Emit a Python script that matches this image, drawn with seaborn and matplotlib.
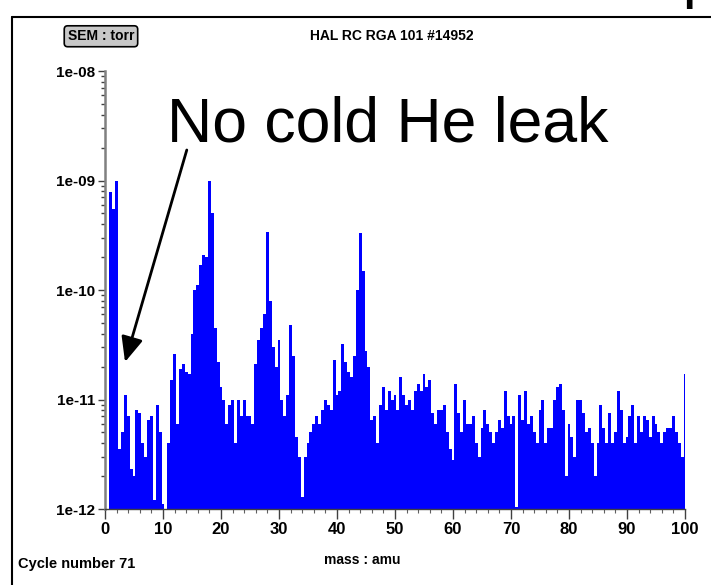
import numpy as np
import pandas as pd
import matplotlib
matplotlib.use("Agg")
import matplotlib.pyplot as plt
import seaborn as sns
from matplotlib.lines import Line2D
from matplotlib.ticker import MultipleLocator, LogLocator, FuncFormatter, NullFormatter

# partial pressures (torr), one value every 0.5 amu
p_01_25 = [7.8e-10, 5.5e-10, 1.0e-9, 3.5e-12, 5e-12, 1.1e-11, 7e-12, 2.3e-12,
           2e-12, 8e-12, 7.5e-12, 4e-12, 3e-12, 6.5e-12, 7e-12, 1.2e-12,
           9e-12, 5e-12, 1.1e-12, 1.0e-12, 4e-12, 1.5e-11, 2.6e-11, 6e-12,
           1.9e-11, 2.1e-11, 1.8e-11, 1.7e-11, 4e-11, 1.0e-10, 1.1e-10, 1.7e-10,
           2.1e-10, 2.0e-10, 1.0e-9, 5e-10, 4.5e-11, 2.2e-11, 1.3e-11, 1.0e-11,
           6e-12, 9e-12, 1.0e-11, 4e-12, 1.0e-11, 7e-12, 1.0e-11, 7e-12]
p_25_50 = [7e-12, 6e-12, 2.1e-11, 3.5e-11, 4.5e-11, 6e-11, 3.4e-10, 8e-11,
           3e-11, 2e-11, 3.5e-11, 1e-11, 7e-12, 1.1e-11, 4.8e-11, 2.5e-11,
           4.5e-12, 3e-12, 1.3e-12, 3e-12, 4e-12, 5e-12, 6e-12, 7e-12,
           6e-12, 8e-12, 1e-11, 9e-12, 8e-12, 2.3e-11, 1.1e-11, 1.2e-11,
           3.2e-11, 2.2e-11, 1.8e-11, 1.6e-11, 2.5e-11, 1.0e-10, 3.3e-10, 1.5e-10,
           2.8e-11, 2e-11, 6.5e-12, 7e-12, 4e-12, 9e-12, 1.3e-11, 8e-12,
           1.2e-11, 1.0e-11]
p_50_75 = [1.1e-11, 8e-12, 1.6e-11, 1.1e-11, 9e-12, 1e-11, 8e-12, 1.2e-11,
           1.4e-11, 1.2e-11, 1.7e-11, 1.3e-11, 1.5e-11, 7.5e-12, 6e-12, 8e-12,
           8e-12, 9e-12, 5e-12, 3.5e-12, 2.8e-12, 1.4e-11, 7.5e-12, 5e-12,
           1e-11, 6e-12, 6e-12, 7e-12, 4e-12, 3e-12, 5.5e-12, 8e-12,
           6e-12, 5e-12, 4e-12, 5e-12, 6.5e-12, 5.5e-12, 1.2e-11, 7e-12,
           6e-12, 7e-12, 1.05e-12, 1.1e-11, 6.5e-12, 1.2e-11, 6e-12, 7e-12,
           5e-12, 4e-12]
p_75_100 = [8e-12, 1e-11, 4e-12, 5.5e-12, 5.5e-12, 1e-11, 1.3e-11, 1.4e-11,
            8e-12, 2e-12, 6e-12, 4.5e-12, 3e-12, 1e-11, 1e-11, 7.5e-12,
            5e-12, 5.5e-12, 4e-12, 2e-12, 4e-12, 9e-12, 5.5e-12, 4e-12,
            7.5e-12, 4e-12, 5e-12, 1.2e-11, 8e-12, 4e-12, 4.5e-12, 7e-12,
            9e-12, 4e-12, 7e-12, 5e-12, 7e-12, 6.5e-12, 4.5e-12, 7e-12,
            6e-12, 5e-12, 4e-12, 5e-12, 5.5e-12, 5.5e-12, 7e-12, 5e-12,
            4e-12, 3e-12, 1.7e-11]

pressure = p_01_25 + p_25_50 + p_50_75 + p_75_100
mass = np.arange(1.0, 100.01, 0.5)[:len(pressure)]
df = pd.DataFrame({"mass": mass, "pressure": pressure})

x_ticks = [0, 10, 20, 30, 40, 50, 60, 70, 80, 90, 100]

sns.set_style("white")
plt.rcParams["font.family"] = ["Liberation Sans", "DejaVu Sans"]
plt.rcParams["text.color"] = "black"
plt.rcParams["xtick.color"] = "black"
plt.rcParams["ytick.color"] = "black"

fig = plt.figure(figsize=(7.11, 5.85), dpi=100)
ax = fig.add_axes([0.1477, 0.1299, 0.9634 - 0.1477, 0.8786 - 0.1299])

sns.histplot(data=df, x="mass", weights="pressure", binwidth=0.5, binrange=(0.75, 100.25),
             color="#0000ff", alpha=1, linewidth=0, edgecolor="none", ax=ax)
ax.set_yscale("log")
ax.set_ylim(1e-12, 1e-8)
ax.set_xlim(0, 100)
ax.set_xlabel("")
ax.set_ylabel("")

ax.set_xticks(x_ticks)
ax.xaxis.set_minor_locator(MultipleLocator(2))
ax.yaxis.set_major_locator(LogLocator(base=10))
ax.yaxis.set_minor_locator(LogLocator(base=10, subs=np.arange(2, 10)))
ax.yaxis.set_minor_formatter(NullFormatter())
ax.yaxis.set_major_formatter(FuncFormatter(lambda v, _: f"{v:.0e}"))

for s in ["top", "right"]:
    ax.spines[s].set_visible(False)
ax.spines["left"].set_color("#808080")
ax.spines["left"].set_linewidth(1.8)
ax.spines["bottom"].set_color("#404040")
ax.spines["bottom"].set_linewidth(1.0)

ax.tick_params(axis="y", which="major", length=5, width=1, color="#404040",
               labelsize=11, pad=2, left=True, labelcolor="black")
ax.tick_params(axis="y", which="minor", length=3, width=1, color="#404040", left=True)
ax.tick_params(axis="x", which="major", length=7, width=1, color="#404040",
               labelsize=12, pad=2, bottom=True, labelcolor="black")
ax.tick_params(axis="x", which="minor", length=3, width=0.8, color="#606060", bottom=True)
for lab in ax.get_xticklabels() + ax.get_yticklabels():
    lab.set_fontweight("bold")

# annotation arrow
ax.annotate("", xy=(3.45, 2.2e-11), xytext=(14.1, 1.9e-9),
            arrowprops=dict(arrowstyle="-|>,head_length=0.8,head_width=0.35",
                            lw=2.0, color="black", mutation_scale=19,
                            shrinkA=0, shrinkB=0))

fig.text(167 / 711, 1 - 141 / 585, "No cold He leak", fontsize=45, color="black",
         ha="left", va="baseline")

# texts of the RGA window
fig.text(0.142, 0.938, "SEM : torr", fontsize=10, fontweight="bold",
         ha="center", va="center",
         bbox=dict(boxstyle="round,pad=0.25", fc="#c8c8c8", ec="black", lw=1.2))
fig.text(0.551, 0.938, "HAL RC RGA 101 #14952", fontsize=10, fontweight="bold",
         ha="center", va="center")
fig.text(0.509, 0.043, "mass : amu", fontsize=10, fontweight="bold",
         ha="center", va="center")
fig.text(0.025, 0.036, "Cycle number 71", fontsize=10.5, fontweight="bold",
         ha="left", va="center")

# slide frame and cut title letter
fig.add_artist(Line2D([0.017, 1.0], [0.971, 0.971], color="black", lw=1.5))
fig.add_artist(Line2D([0.017, 0.017], [0.0, 0.971], color="black", lw=1.5))
fig.text(0.961, 1.0, "p", fontsize=30, fontweight="bold", ha="left", va="baseline")

fig.savefig("out.png", dpi=100, facecolor="white")
